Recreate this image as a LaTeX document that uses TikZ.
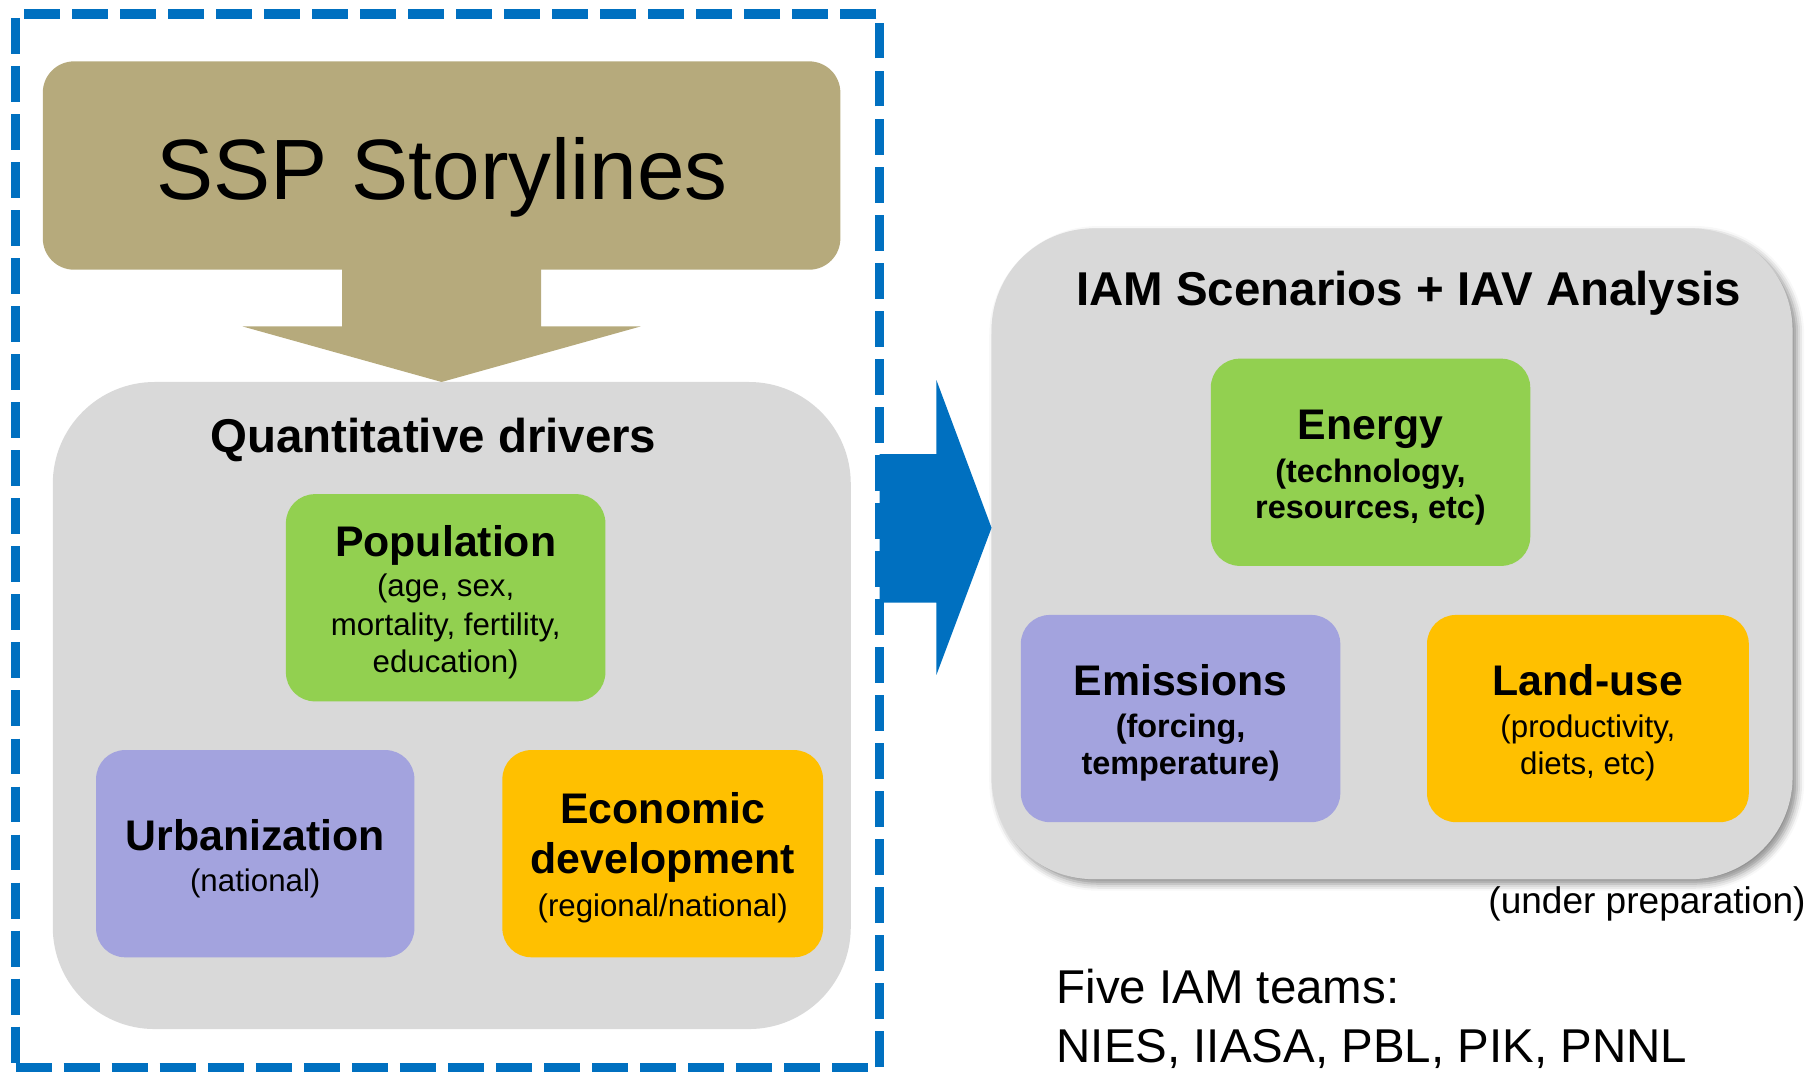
\documentclass[tikz,border=0pt]{standalone}
\usepackage{fontspec}
\setmainfont{Liberation Sans}
\usetikzlibrary{calc,shadows.blur}

\definecolor{frameblue}{HTML}{0070C0}
\definecolor{storytan}{HTML}{B6AA7C}
\definecolor{panelgrey}{HTML}{D9D9D9}
\definecolor{boxgreen}{HTML}{92D050}
\definecolor{boxlilac}{HTML}{A3A3DE}
\definecolor{boxorange}{HTML}{FFC000}

\tikzset{
  panel/.style={fill=panelgrey, rounded corners=88pt, inner sep=0pt, outer sep=0pt},
  item/.style={rounded corners=25pt, inner sep=0pt, outer sep=0pt,
               minimum width=276pt, minimum height=179pt},
  ttl/.style={anchor=base, inner sep=0pt, font=\fontsize{41}{41}\selectfont\bfseries},
  head/.style={anchor=base, inner sep=0pt, font=\fontsize{37}{37}\selectfont\bfseries},
  sub/.style={anchor=base, inner sep=0pt, font=\fontsize{27}{27}\selectfont},
  subb/.style={anchor=base, inner sep=0pt, font=\fontsize{28}{28}\selectfont\bfseries},
  plain/.style={anchor=base, inner sep=0pt, font=\fontsize{41}{41}\selectfont},
  frame/.style={draw=frameblue, line width=8pt, dash pattern=on 31pt off 10.5pt,
                inner sep=0pt, outer sep=0pt},
}

\begin{document}
\begin{tikzpicture}[x=1pt, y=-1pt]
\useasboundingbox (0,0) rectangle (1568,927);

% ---------- left part: storylines and drivers ----------
\node[fill=storytan, rounded corners=27pt, inner sep=0pt, outer sep=0pt,
      minimum width=689pt, minimum height=180pt] (ssp) at (381.5,143) {};
\node[anchor=base, inner sep=0pt, font=\fontsize{74}{74}\selectfont] (ssptext) at (382,172) {SSP Storylines};

\node[panel, minimum width=689.4pt, minimum height=559pt] (drv) at (390.3,609.5) {};
\node[ttl] (drvtitle) at (374.5,391) {Quantitative drivers};

% block arrow from the storylines down into the drivers
\fill[storytan] ($(ssp.south)+(-86,-1)$) -- ($(ssp.south)+(86,-1)$)
  -- ($(ssp.south)+(86,49)$) -- ($(ssp.south)+(172,49)$)
  -- (ssp.south |- drv.north)
  -- ($(ssp.south)+(-172,49)$) -- ($(ssp.south)+(-86,49)$) -- cycle;

\node[item, fill=boxgreen] (pop) at (385,516.4) {};
\node[head] (poph) at (385,481) {Population};
\node[sub] (pop1) at (385,515.3) {(age, sex,};
\node[sub] (pop2) at (385,549) {mortality, fertility,};
\node[sub] (pop3) at (385,581) {education)};

\node[item, fill=boxlilac, minimum width=275pt] (urb) at (220.5,737.5) {};
\node[head] (urbh) at (220.5,735) {Urbanization};
\node[sub] (urb1) at (220.5,770.3) {(national)};

\node[item, fill=boxorange, minimum width=277pt] (eco) at (572.5,737.5) {};
\node[head] (ecoh1) at (572.5,711) {Economic};
\node[head] (ecoh2) at (572.5,755) {development};
\node[sub] (eco1) at (572.5,792) {(regional/national)};

% dashed frame around the left part
\node[frame, minimum width=746.5pt, minimum height=910.5pt] (box) at (386.75,467.25) {};

% ---------- right part: scenarios ----------
\node[panel, minimum width=692pt, minimum height=562.2pt,
      blur shadow={shadow xshift=4pt, shadow yshift=-4pt, shadow blur radius=6pt, shadow opacity=45}]
      (iam) at (1202.6,478.4) {};
\node[ttl] (iamtitle) at (1217,263.6) {IAM Scenarios + IAV Analysis};

% big blue arrow from the frame to the scenarios
\coordinate (tip) at ($(iam.west)+(0,-22.4)$);
\fill[frameblue] (box.east |- 0,392.4) -- ($(tip)+(-47.6,-63.6)$)
  -- ($(tip)+(-47.6,-127.6)$) -- (tip) -- ($(tip)+(-47.6,127)$)
  -- ($(tip)+(-47.6,64.6)$) -- (box.east |- 0,520.6) -- cycle;

\node[item, fill=boxgreen] (ene) at (1184,399.35) {};
\node[head] (eneh) at (1184,379.7) {Energy};
\node[subb] (ene1) at (1184,417.2) {(technology,};
\node[subb] (ene2) at (1184,448) {resources, etc)};

\node[item, fill=boxlilac] (emi) at (1019.9,620.75) {};
\node[head] (emih) at (1019.9,601) {Emissions};
\node[subb] (emi1) at (1019.9,637) {(forcing,};
\node[subb] (emi2) at (1019.9,669) {temperature)};

\node[item, fill=boxorange, minimum width=278pt] (lnd) at (1371.8,620.75) {};
\node[head] (lndh) at (1371.8,601) {Land-use};
\node[sub] (lnd1) at (1371.8,637) {(productivity,};
\node[sub] (lnd2) at (1371.8,669) {diets, etc)};

\node[anchor=base east, inner sep=0pt, font=\fontsize{32}{32}\selectfont] (prep) at (1560,789) {(under preparation)};

\node[plain, anchor=base west] (teams) at (912.6,867) {Five IAM teams:};
\node[plain, anchor=base west] (names) at (912.6,917.5) {NIES, IIASA, PBL, PIK, PNNL};

\end{tikzpicture}
\end{document}
